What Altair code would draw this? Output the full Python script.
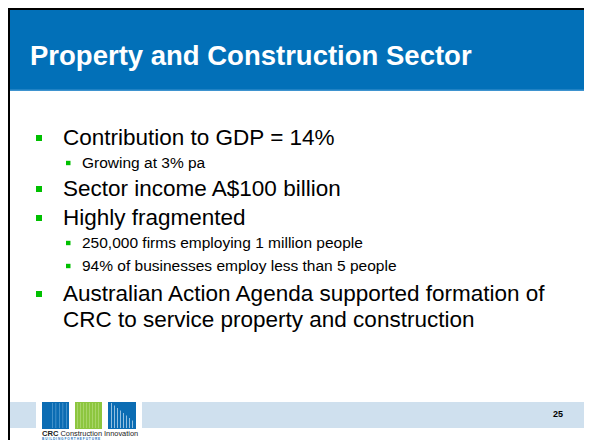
import altair as alt
import pandas as pd

# ---- content ----
title_text = ["Property and Construction Sector"]
bullet_lines = [
    "Contribution to GDP = 14%",
    "Growing at 3% pa",
    "Sector income A$100 billion",
    "Highly fragmented",
    "250,000 firms employing 1 million people",
    "94% of businesses employ less than 5 people",
    "Australian Action Agenda supported formation of",
    "CRC to service property and construction",
]
bullet_levels = [1, 2, 1, 1, 2, 2, 1, 1]
bullet_marks = [True, True, True, True, True, True, True, False]
page_number = ["25"]
logo_name_bold = ["CRC"]
logo_name_rest = ["Construction Innovation"]
logo_tagline = ["B U I L D I N G    F O R    T H E    F U T U R E"]

# ---- layout (page pixels) ----
line_y = [138, 163, 189, 218, 243, 266, 294, 320]
W, H = 584, 440
OX, OY = 8, 8

BLUE = "#0270B8"
GREEN = "#00C000"
BAND = "#CFE0EE"
FONT = "Liberation Sans"

xs = alt.Scale(domain=[OX, W], nice=False, zero=False)
ys = alt.Scale(domain=[OY, H], nice=False, zero=False, reverse=True)


def rect_layer(rows, color, opacity=1.0):
    df = pd.DataFrame(rows, columns=["x", "x2", "y", "y2"])
    return alt.Chart(df).mark_rect(color=color, strokeWidth=0, opacity=opacity).encode(
        x=alt.X("x:Q", scale=xs, axis=None),
        x2="x2:Q",
        y=alt.Y("y:Q", scale=ys, axis=None),
        y2="y2:Q",
    )


def text_layer(df, size, color, bold=False, align="left", baseline="middle", font=FONT):
    return alt.Chart(df).mark_text(
        align=align, baseline=baseline, font=font, fontSize=size,
        fontWeight="bold" if bold else "normal", color=color,
    ).encode(
        x=alt.X("x:Q", scale=xs, axis=None),
        y=alt.Y("y:Q", scale=ys, axis=None),
        text="t:N",
    )


layers = []
# header
layers.append(rect_layer([(10, W, 10, 91)], BLUE))
layers.append(rect_layer([(10, W, 89.5, 91)], "#3E93CF"))
# borders
layers.append(rect_layer([(8, 10, 8, H)], "#000000"))
layers.append(rect_layer([(8, W, 8, 10)], "#000000"))
# footer band
layers.append(rect_layer([(10, 36, 402, 428), (142, W, 402, 428)], BAND))
# logo squares
layers.append(rect_layer([(42, 69, 402, 429), (108, 136, 402, 429)], "#0B6CB3"))
layers.append(rect_layer([(75, 102, 402, 429)], "#8DC63F"))
# texture inside logo squares
tex_blue = [(52 + 3.5 * i, 52.7 + 3.5 * i, 403, 428) for i in range(5)]
layers.append(rect_layer(tex_blue, "#6FAEDD", 0.8))
tex_green = [(77 + 3 * i, 77.7 + 3 * i, 403, 428) for i in range(8)]
layers.append(rect_layer(tex_green, "#BFE08A", 0.8))
tex_tri = [(111 + 3 * i, 111.7 + 3 * i, 403 + 2.5 * i, 428) for i in range(8)]
layers.append(rect_layer(tex_tri, "#E3EFF9", 0.9))

# title
layers.append(text_layer(pd.DataFrame({"x": [30], "y": [57], "t": title_text}), 27.5, "#FFFFFF", bold=True))

# bullets
l1 = [(t, y) for t, lv, y in zip(bullet_lines, bullet_levels, line_y) if lv == 1]
l2 = [(t, y) for t, lv, y in zip(bullet_lines, bullet_levels, line_y) if lv == 2]
layers.append(text_layer(pd.DataFrame({"x": [63] * len(l1), "y": [y for _, y in l1], "t": [t for t, _ in l1]}), 22.5, "#000000"))
layers.append(text_layer(pd.DataFrame({"x": [82] * len(l2), "y": [y for _, y in l2], "t": [t for t, _ in l2]}), 15.5, "#000000"))

sq1 = [(36, 42, y - 3, y + 3) for lv, m, y in zip(bullet_levels, bullet_marks, line_y) if lv == 1 and m]
sq2 = [(66, 70.5, y - 2.2, y + 2.2) for lv, m, y in zip(bullet_levels, bullet_marks, line_y) if lv == 2 and m]
layers.append(rect_layer(sq1, GREEN))
layers.append(rect_layer(sq2, GREEN))

# footer texts
layers.append(text_layer(pd.DataFrame({"x": [558], "y": [414], "t": page_number}), 9, "#000000", bold=True, align="center"))
layers.append(text_layer(pd.DataFrame({"x": [42], "y": [434], "t": logo_name_bold}), 7.6, "#222222", bold=True))
layers.append(text_layer(pd.DataFrame({"x": [60.5], "y": [434], "t": logo_name_rest}), 7.4, "#222222"))
layers.append(text_layer(pd.DataFrame({"x": [42], "y": [438.6], "t": logo_tagline}), 3.2, "#1F77C0", bold=True))

chart = alt.layer(*layers).properties(
    width=W - OX, height=H - OY,
    autosize=alt.AutoSizeParams(type="none"),
    padding=0,
    background="#FFFFFF",
).configure_view(stroke=None)

chart.save("out.html", embed_options={"renderer": "svg", "actions": False})
